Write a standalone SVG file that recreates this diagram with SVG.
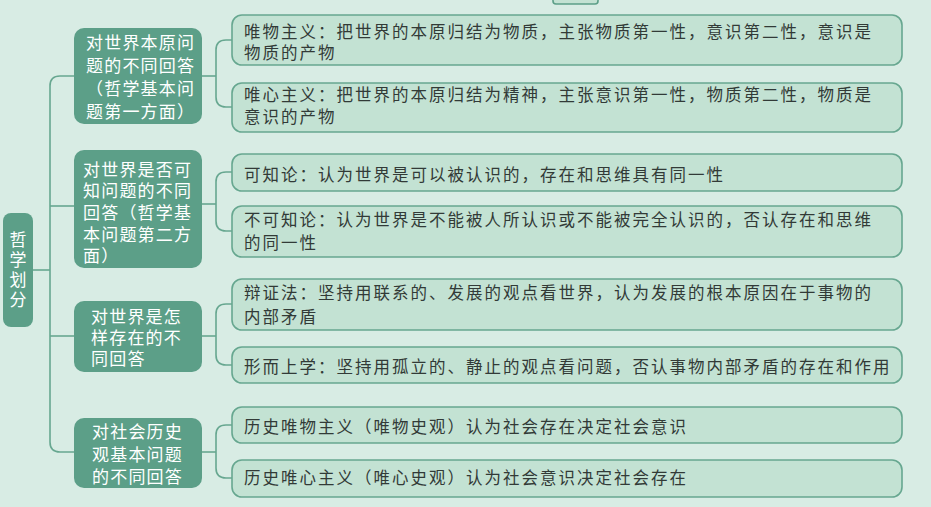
<svg xmlns="http://www.w3.org/2000/svg" width="931" height="507" viewBox="0 0 931 507">
<style>
.bg{fill:#d8ece4}
.root rect,.l1 rect{fill:#5c9f88}
.l1 text,.root text{fill:#ffffff;font-family:"Liberation Sans","Noto Sans CJK SC",sans-serif;font-size:17px;letter-spacing:1.2px}
.leaf rect{fill:#c3e2d3;stroke:#67a790;stroke-width:1.6}
.leaf text{fill:#323a37;font-family:"Liberation Sans","Noto Sans CJK SC",sans-serif;font-size:16.5px;letter-spacing:2px}
.conn path{fill:none;stroke:#67a790;stroke-width:1.6}
</style>
<rect class="bg" x="0" y="0" width="931" height="507"/>
<rect x="553" y="-10" width="45" height="14" rx="3" fill="#c3e2d3" stroke="#5c9f88" stroke-width="1.6"/>
<g class="conn" id="connectors">
<path d="M33,270 H50"/>
<path d="M74,76 H60 Q50,76 50,86 V442 Q50,452 60,452 H74"/>
<path d="M50,206 H74"/>
<path d="M50,336 H74"/>
<path d="M202,76 H216"/>
<path d="M232,40 H226 Q216,40 216,50 V97 Q216,107 226,107 H232"/>
<path d="M202,204 H216"/>
<path d="M232,172 H226 Q216,172 216,182 V221 Q216,231 226,231 H232"/>
<path d="M202,336 H216"/>
<path d="M232,304 H226 Q216,304 216,314 V355 Q216,365 226,365 H232"/>
<path d="M202,452 H216"/>
<path d="M232,425 H226 Q216,425 216,435 V468 Q216,478 226,478 H232"/>
</g>
<g class="root" id="root">
<rect x="3" y="213" width="30" height="114" rx="8"/>
<text x="18.5" y="246" text-anchor="middle">哲</text>
<text x="18.5" y="266" text-anchor="middle">学</text>
<text x="18.5" y="286" text-anchor="middle">划</text>
<text x="18.5" y="306" text-anchor="middle">分</text>
</g>
<g class="l1" id="q1">
<rect x="74" y="28" width="128" height="96" rx="10"/>
<text x="86" y="49">对世界本原问</text>
<text x="86" y="72">题的不同回答</text>
<text x="86" y="95">（哲学基本问</text>
<text x="86" y="118">题第一方面）</text>
</g>
<g class="l1" id="q2">
<rect x="74" y="150" width="128" height="118" rx="10"/>
<text x="83" y="176">对世界是否可</text>
<text x="83" y="197">知问题的不同</text>
<text x="83" y="219">回答（哲学基</text>
<text x="83" y="241">本问题第二方</text>
<text x="83" y="262">面）</text>
</g>
<g class="l1" id="q3">
<rect x="74" y="301" width="128" height="71" rx="10"/>
<text x="91" y="323">对世界是怎</text>
<text x="91" y="344">样存在的不</text>
<text x="91" y="365">同回答</text>
</g>
<g class="l1" id="q4">
<rect x="74" y="418" width="128" height="70" rx="10"/>
<text x="92" y="438">对社会历史</text>
<text x="92" y="461">观基本问题</text>
<text x="92" y="483">的不同回答</text>
</g>
<g class="leaf" id="a1">
<rect x="232" y="15" width="670" height="50" rx="10"/>
<text x="244" y="38">唯物主义：把世界的本原归结为物质，主张物质第一性，意识第二性，意识是</text>
<text x="244" y="59">物质的产物</text>
</g>
<g class="leaf" id="a2">
<rect x="232" y="83" width="670" height="49" rx="10"/>
<text x="244" y="101">唯心主义：把世界的本原归结为精神，主张意识第一性，物质第二性，物质是</text>
<text x="244" y="123">意识的产物</text>
</g>
<g class="leaf" id="a3">
<rect x="232" y="154" width="670" height="37" rx="10"/>
<text x="244" y="181">可知论：认为世界是可以被认识的，存在和思维具有同一性</text>
</g>
<g class="leaf" id="a4">
<rect x="232" y="206" width="670" height="51" rx="10"/>
<text x="244" y="226">不可知论：认为世界是不能被人所认识或不能被完全认识的，否认存在和思维</text>
<text x="244" y="249">的同一性</text>
</g>
<g class="leaf" id="a5">
<rect x="232" y="279" width="670" height="51" rx="10"/>
<text x="244" y="299">辩证法：坚持用联系的、发展的观点看世界，认为发展的根本原因在于事物的</text>
<text x="244" y="323">内部矛盾</text>
</g>
<g class="leaf" id="a6">
<rect x="232" y="347" width="670" height="36" rx="10"/>
<text x="244" y="373">形而上学：坚持用孤立的、静止的观点看问题，否认事物内部矛盾的存在和作用</text>
</g>
<g class="leaf" id="a7">
<rect x="232" y="407" width="670" height="36" rx="10"/>
<text x="244" y="433">历史唯物主义（唯物史观）认为社会存在决定社会意识</text>
</g>
<g class="leaf" id="a8">
<rect x="232" y="460" width="670" height="37" rx="10"/>
<text x="244" y="484">历史唯心主义（唯心史观）认为社会意识决定社会存在</text>
</g>
</svg>
